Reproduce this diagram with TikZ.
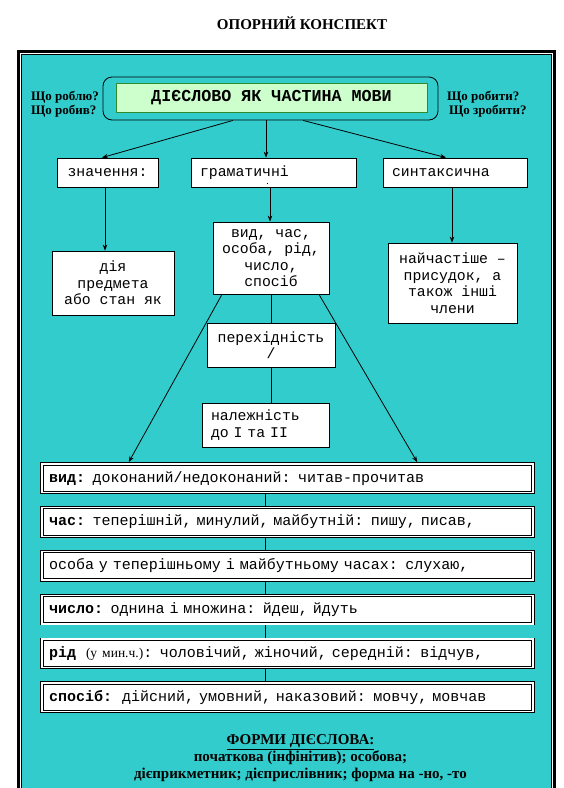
\documentclass[tikz,border=0pt]{standalone}
\usepackage{fontspec}
\setmainfont{Liberation Serif}
\setmonofont{Liberation Mono}
\usetikzlibrary{arrows.meta,backgrounds}
\definecolor{bgcyan}{HTML}{33CCCC}
\definecolor{lgreen}{HTML}{CCFFCC}
\definecolor{dgreen}{HTML}{2E8B2E}
\begin{document}
\begin{tikzpicture}[x=1pt,y=-1pt,
  box/.style={draw=black, fill=white, line width=0.8pt, inner sep=0pt,
    font=\ttfamily\fontsize{14.8}{16.5}\selectfont, align=center},
  band/.style={draw=black, double=white, double distance=1.4pt, line width=0.9pt,
    fill=white, minimum width=491pt, minimum height=28.5pt, inner xsep=7pt,
    inner ysep=0pt, text width=477pt, align=left,
    font=\ttfamily\fontsize{15}{16.5}\selectfont},
  conn/.style={line width=0.8pt, -{Stealth[length=6pt,width=4.5pt]}},
  plainline/.style={line width=0.8pt},
  qlabel/.style={font=\bfseries\fontsize{13}{14}\selectfont, align=left, inner sep=0pt}
]
\useasboundingbox (0,0) rectangle (564,788);
\begin{pgfonlayer}{background}
  \fill[white] (0,0) rectangle (564,788);
  \fill[bgcyan] (21.5,54.5) rectangle (551,800);
  \draw[line width=3pt] (18.2,800) -- (18.2,51.2) -- (554.5,51.2) -- (554.5,800);
  \draw[line width=1.2pt] (21.3,800) -- (21.3,54.3) -- (551.2,54.3) -- (551.2,800);
\end{pgfonlayer}

% title
\node[font=\bfseries\fontsize{15}{18}\selectfont, inner sep=0pt] (head) at (302,23) {ОПОРНИЙ КОНСПЕКТ};

% top box
\node[draw=black, line width=0.8pt, rounded corners=9pt, fill=bgcyan,
  minimum width=335pt, minimum height=43pt] (top) at (270.5,98.5) {};
\node[draw=dgreen, line width=0.8pt, fill=lgreen, minimum width=311pt, minimum height=29pt,
  inner sep=0pt, font=\ttfamily\bfseries\fontsize{16.7}{18}\selectfont] (topin) at (271.5,98) {ДІЄСЛОВО ЯК ЧАСТИНА МОВИ};

\node[qlabel, anchor=west] (qleft) at (31,104) {Що роблю?\\Що робив?};
\node[qlabel, anchor=west] (qright) at (447,104) {Що робити?\\\hspace{2pt}Що зробити?};

% second row
\node[box, minimum width=101pt, minimum height=29pt] (zn) at (107.5,172.5) {значення:};
\node[box, minimum width=165pt, minimum height=29pt, text width=147pt, align=left, inner xsep=9pt] (gram) at (273.5,172.5) {граматичні};
\node[box, minimum width=144pt, minimum height=29pt, text width=126pt, align=left, inner xsep=9pt] (synt) at (455,172.5) {синтаксична};
\fill (266.5,182.5) rectangle +(1.2,1.2);

% third row
\node[box, minimum width=122pt, minimum height=64pt] (diya) at (113,283) {дія\\предмета\\або стан як};
\node[box, minimum width=116pt, minimum height=72pt] (vyd) at (271,258) {вид, час,\\особа, рід,\\число,\\спосіб};
\node[box, minimum width=129pt, minimum height=80pt] (naych) at (452.5,283) {найчастіше –\\присудок, а\\також інші\\члени};

\node[box, minimum width=128pt, minimum height=44pt] (perekh) at (271,345) {перехідність\\/};
\node[box, minimum width=127pt, minimum height=44pt, text width=109pt, align=left, inner xsep=9pt] (nalezh) at (265.5,425) {належність\\до I та II};

% bands
\node[band] (b1) at (287.5,478.2) {\textbf{вид:} доконаний/недоконаний: читав-прочитав};
\node[band] (b2) at (287.5,522) {\textbf{час:} теперішній, минулий, майбутній: пишу, писав,};
\node[band] (b3) at (287.5,565.8) {особа у теперішньому і майбутньому часах: слухаю,};
\node[band] (b4) at (287.5,609.6) {\textbf{число:} однина і множина: йдеш, йдуть};
\node[band] (b5) at (287.5,653.4) {\textbf{рід}\ \ {\rmfamily\fontsize{13.5}{16}\selectfont(у мин.ч.)}: чоловічий, жіночий, середній: відчув,};
\node[band] (b6) at (287.5,697.2) {\textbf{спосіб:}\ \ дійсний, умовний, наказовий: мовчу, мовчав};

% bottom text
\node[font=\bfseries\fontsize{15}{17}\selectfont, align=center, inner sep=0pt] (forms) at (300.5,758.5) {\underline{ФОРМИ ДІЄСЛОВА:}\\початкова (інфінітив); особова;\\дієприкметник; дієприслівник; форма на -но, -то};

% coordinates for connector x positions
\coordinate (c1) at (233,0);
\coordinate (c2) at (266,0);
\coordinate (c3) at (303,0);
\coordinate (c4) at (102,0);
\coordinate (c5) at (446,0);
\coordinate (c6) at (105,0);
\coordinate (c7) at (270,0);
\coordinate (c8) at (452,0);
\coordinate (c9) at (271,0);
\coordinate (c10) at (265,0);
\coordinate (c11) at (222,0);
\coordinate (c12) at (319,0);
\coordinate (c13) at (128,0);
\coordinate (c14) at (418,0);

\begin{pgfonlayer}{background}
\draw[conn] (top.south -| c1) -- (zn.north -| c4);
\draw[conn] (top.south -| c2) -- (gram.north -| c2);
\draw[conn] (top.south -| c3) -- (synt.north -| c5);
\draw[conn] (zn.south -| c6) -- (diya.north -| c6);
\draw[conn] (gram.south -| c7) -- (vyd.north -| c7);
\draw[conn] (synt.south -| c8) -- (naych.north -| c8);
\draw[plainline] (vyd.south -| c9) -- (perekh.north -| c9);
\draw[plainline] (perekh.south -| c9) -- (nalezh.north -| c9);
\draw[conn, shorten >=1.6pt] (vyd.south -| c11) -- (b1.north -| c13);
\draw[conn, shorten >=1.6pt] (vyd.south -| c12) -- (b1.north -| c14);
\draw[plainline] (b1.south -| c10) -- (b2.north -| c10);
\draw[plainline] (b2.south -| c10) -- (b3.north -| c10);
\draw[plainline] (b3.south -| c10) -- (b4.north -| c10);
\draw[plainline] (b4.south -| c10) -- (b5.north -| c10);
\draw[plainline] (b5.south -| c10) -- (b6.north -| c10);
\end{pgfonlayer}
\end{tikzpicture}
\end{document}
